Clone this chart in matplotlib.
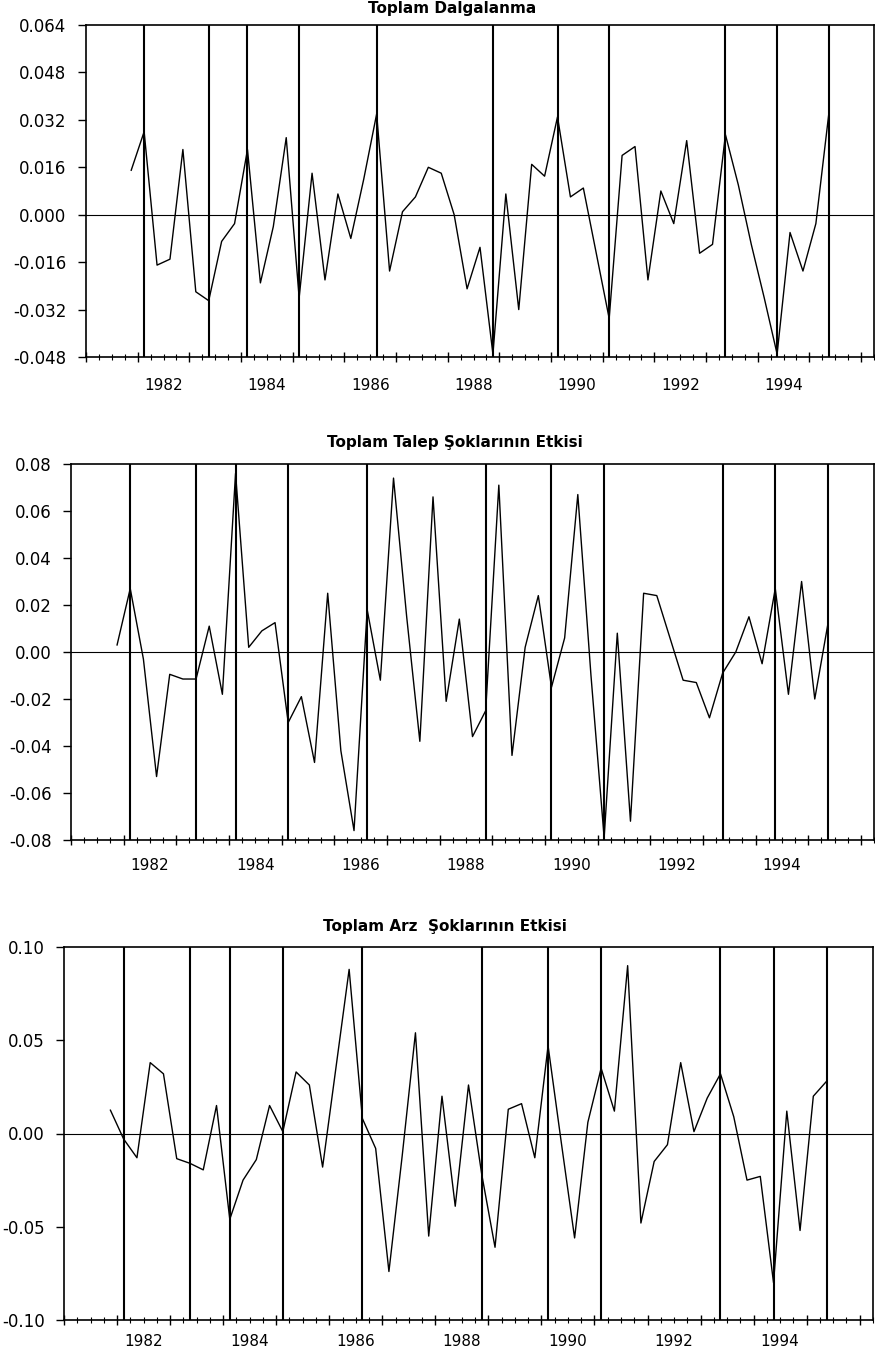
import numpy as np
import pandas as pd
import matplotlib
matplotlib.use("Agg")
import matplotlib.pyplot as plt
from matplotlib.ticker import MultipleLocator, FormatStrFormatter

plt.rcParams['font.family'] = ['DejaVu Sans']
plt.rcParams['axes.unicode_minus'] = False

# quarterly observations, 1981Q4 - 1995Q2
quarters = pd.period_range("1981Q4", periods=55, freq="Q")

# turning points marked with full-height vertical lines
turning_points = ["1982Q1", "1983Q2", "1984Q1", "1985Q1", "1986Q3", "1988Q4",
                  "1990Q1", "1991Q1", "1993Q2", "1994Q2", "1995Q2"]

toplam = [0.015, 0.028, -0.017, -0.015, 0.022, -0.026, -0.029, -0.009, -0.003, 0.022,
          -0.023, -0.004, 0.026, -0.028, 0.014, -0.022, 0.007, -0.008, 0.012, 0.034,
          -0.019, 0.001, 0.006, 0.016, 0.014, 0.000, -0.025, -0.011, -0.047, 0.007,
          -0.032, 0.017, 0.013, 0.033, 0.006, 0.009, -0.013, -0.035, 0.020, 0.023,
          -0.022, 0.008, -0.003, 0.025, -0.013, -0.010, 0.027, 0.010, -0.010, -0.028,
          -0.047, -0.006, -0.019, -0.003, 0.034]

talep = [0.003, 0.027, -0.003, -0.053, -0.0095, -0.0115, -0.0115, 0.011, -0.018, 0.076,
         0.002, 0.009, 0.0125, -0.030, -0.019, -0.047, 0.025, -0.042, -0.076, 0.018,
         -0.012, 0.074, 0.015, -0.038, 0.066, -0.021, 0.014, -0.036, -0.025, 0.071,
         -0.044, 0.002, 0.024, -0.015, 0.006, 0.067, -0.010, -0.079, 0.008, -0.072,
         0.025, 0.024, 0.006, -0.012, -0.013, -0.028, -0.009, 0.000, 0.015, -0.005,
         0.027, -0.018, 0.030, -0.020, 0.012]

arz = [0.0125, -0.003, -0.013, 0.038, 0.032, -0.0135, -0.016, -0.0195, 0.015, -0.046,
       -0.025, -0.014, 0.015, 0.001, 0.033, 0.026, -0.018, 0.035, 0.088, 0.008,
       -0.008, -0.074, -0.012, 0.054, -0.055, 0.020, -0.039, 0.026, -0.022, -0.061,
       0.013, 0.016, -0.013, 0.047, -0.005, -0.056, 0.006, 0.035, 0.012, 0.090,
       -0.048, -0.015, -0.006, 0.038, 0.001, 0.019, 0.032, 0.009, -0.025, -0.023,
       -0.080, 0.012, -0.052, 0.020, 0.028]

titles = ["Toplam Dalgalanma", "Toplam Talep Şoklarının Etkisi", "Toplam Arz  Şoklarının Etkisi"]
label_years = [1982, 1984, 1986, 1988, 1990, 1992, 1994]


def to_year(p):
    return p.year + (p.quarter - 0.5) / 4


x = np.array([to_year(p) for p in quarters])
tp = [to_year(pd.Period(q, freq="Q")) for q in turning_points]

W, H = 875, 1364
fig = plt.figure(figsize=(W / 100, H / 100), dpi=100)

panels = [
    # series, (left, top, right, bottom) px, ylim, ystep, fmt, title x px, title y px, year label y px
    (toplam, (86, 25, 874, 357), (-0.048, 0.064), 0.016, "%.3f", 452, 9, 385),
    (talep, (71, 464, 874, 840), (-0.08, 0.08), 0.02, "%.2f", 455, 443, 866),
    (arz, (64, 947, 873, 1320), (-0.10, 0.10), 0.05, "%.2f", 445, 927, 1341),
]

for (vals, (l, t, r, b), ylim, ystep, fmt, tx, ty, ly), title in zip(panels, titles):
    ax = fig.add_axes([l / W, 1 - b / H, (r - l) / W, (b - t) / H])
    ax.plot(x, vals, color="black", lw=1.0)
    ax.axhline(0, color="black", lw=0.8)
    for d in tp:
        ax.axvline(d, color="black", lw=1.5)
    ax.set_xlim(1981.0, 1996.25)
    ax.set_ylim(*ylim)
    ax.yaxis.set_major_locator(MultipleLocator(ystep))
    ax.yaxis.set_major_formatter(FormatStrFormatter(fmt))
    ax.xaxis.set_major_locator(MultipleLocator(1))
    ax.xaxis.set_minor_locator(MultipleLocator(0.25))
    ax.set_xticklabels([])
    ax.tick_params(axis="x", which="major", direction="inout", length=7, width=1)
    ax.tick_params(axis="x", which="minor", direction="inout", length=4, width=0.8)
    ax.tick_params(axis="y", direction="out", length=6, width=1, labelsize=12, pad=8)
    for sp in ax.spines.values():
        sp.set_linewidth(1.2)
    for yr in label_years:
        ax.text(yr + 0.5, 1 - (ly - t) / (b - t), str(yr), transform=ax.get_xaxis_transform(),
                ha="center", va="center", fontsize=11)
    fig.text(tx / W, 1 - ty / H, title, ha="center", va="center", fontsize=11, fontweight="bold")

fig.savefig("out.png", dpi=100)
